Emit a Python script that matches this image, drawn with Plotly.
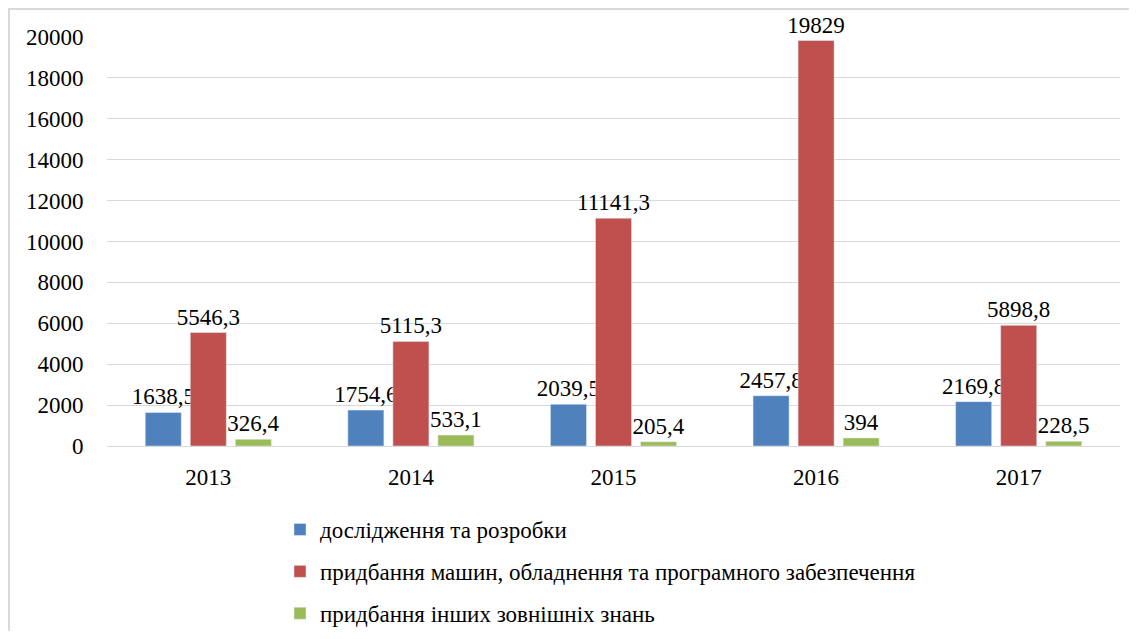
import plotly.graph_objects as go

years = ["2013", "2014", "2015", "2016", "2017"]
series_names = [
    "дослідження та розробки",
    "придбання машин, обладнення та програмного забезпечення",
    "придбання інших зовнішніх знань",
]
rd = [1638.5, 1754.6, 2039.5, 2457.8, 2169.8]
machines = [5546.3, 5115.3, 11141.3, 19829, 5898.8]
other = [326.4, 533.1, 205.4, 394, 228.5]
colors = ["#4F81BD", "#C0504D", "#9BBB59"]
y_ticks = list(range(0, 20001, 2000))

FONT = "Liberation Serif, Times New Roman, serif"

def fmt(v):
    return f"{v:g}".replace(".", ",")

fig = go.Figure()
all_series = [rd, machines, other]
for name, vals, col in zip(series_names, all_series, colors):
    fig.add_trace(go.Bar(
        x=years, y=vals, name=name,
        marker=dict(color=col),
        text=[fmt(v) for v in vals],
        textposition="outside",
        constraintext="none",
        textfont=dict(family=FONT, size=23, color="#000000"),
        cliponaxis=False,
        legendgroup=name,
    ))

W, H = 1121, 623
L, R, T, B = 99, 9, 29, 185
pw, ph = W - L - R, H - T - B

fig.update_layout(
    width=W, height=H,
    margin=dict(l=L, r=R, t=T, b=B, autoexpand=False),
    paper_bgcolor="white", plot_bgcolor="white",
    barmode="group", bargap=0.333, bargroupgap=0.2,
    font=dict(family=FONT, size=23, color="#000000"),
    showlegend=True,
    legend=dict(
        orientation="v", x=(272 - L) / pw, xanchor="left",
        y=-(500 - (T + ph)) / ph, yanchor="top",
        font=dict(family=FONT, size=23, color="#000000"),
        tracegroupgap=9,
    ),
    shapes=[dict(
        type="rect", xref="paper", yref="paper",
        x0=(1 - L) / pw, x1=1.1, y0=-0.6, y1=(T + ph - 1) / ph,
        line=dict(color="#D9D9D9", width=2),
    )],
)
fig.update_xaxes(
    type="category",
    showline=True, linecolor="#D9D9D9", linewidth=1,
    ticks="outside", ticklen=10, tickcolor="rgba(0,0,0,0)",
)
fig.update_yaxes(
    range=[0, 20000], tickvals=y_ticks, tickformat="d",
    showgrid=True, gridcolor="#D9D9D9", gridwidth=1,
    zeroline=False, showline=False,
    ticks="outside", ticklen=18, tickcolor="rgba(0,0,0,0)",
)
fig.write_html("out.html")
